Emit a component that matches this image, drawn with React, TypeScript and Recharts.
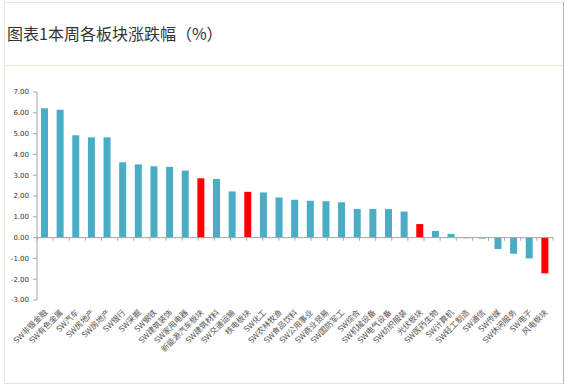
import React from 'react';
import { BarChart, Bar, XAxis, YAxis, Cell, ReferenceLine } from 'recharts';

const categories: string[] = [
  'SW非银金融', 'SW有色金属', 'SW汽车', 'SW房地产', 'SW房地产', 'SW银行', 'SW采掘', 'SW钢铁',
  'SW建筑装饰', 'SW家用电器', '新能源汽车板块', 'SW建筑材料', 'SW交通运输', '核电板块', 'SW化工',
  'SW农林牧渔', 'SW食品饮料', 'SW公用事业', 'SW商业贸易', 'SW国防军工', 'SW综合', 'SW机械设备',
  'SW电气设备', 'SW纺织服装', '光伏板块', 'SW医药生物', 'SW计算机', 'SW轻工制造', 'SW通信',
  'SW传媒', 'SW休闲服务', 'SW电子', '风电板块',
];

const changes: number[] = [
  6.22, 6.15, 4.92, 4.82, 4.82, 3.62, 3.52, 3.43, 3.40, 3.22, 2.85, 2.82, 2.22, 2.20, 2.17,
  1.93, 1.82, 1.77, 1.75, 1.70, 1.38, 1.38, 1.37, 1.25, 0.65, 0.32, 0.18, -0.03, -0.05,
  -0.55, -0.78, -1.00, -1.72,
];

const highlighted: string[] = ['新能源汽车板块', '核电板块', '光伏板块', '风电板块'];

const yTicks: number[] = [-3, -2, -1, 0, 1, 2, 3, 4, 5, 6, 7];

const data = categories.map((name, i) => ({ name, value: changes[i] }));
const boundaries = Array.from({ length: categories.length + 1 }, (_, i) => i);

const BLUE = '#4bacc6';
const RED = '#ff0000';
const AXIS = '#a6a6a6';

const XTick = (props: any) => {
  const { x, y, payload } = props;
  return (
    <g transform={`translate(${x + 1},${y + 11})`}>
      <text
        transform="rotate(-45)"
        textAnchor="end"
        dy="0.35em"
        fontSize={8}
        fill="#555"
        fontFamily="'Noto Sans CJK SC', 'DejaVu Sans', sans-serif"
      >
        {payload.value}
      </text>
    </g>
  );
};

const line = (style: React.CSSProperties): React.CSSProperties => ({
  position: 'absolute',
  background: '#e8e4da',
  ...style,
});

export default function App() {
  return (
    <div style={{ position: 'absolute', left: 0, top: 0, width: 567, height: 389, background: '#fff', overflow: 'hidden' }}>
      <div style={line({ left: 4, top: 2, width: 559, height: 1 })} />
      <div style={line({ left: 4, top: 2, width: 1, height: 381 })} />
      <div style={line({ left: 4, top: 65, width: 559, height: 1 })} />
      <div style={line({ left: 4, top: 383, width: 559, height: 1 })} />
      <div style={line({ left: 563, top: 2, width: 1, height: 382, background: '#b5b5b5' })} />
      <div
        style={{
          position: 'absolute',
          left: 7,
          top: 24,
          fontSize: 16,
          lineHeight: '18px',
          color: '#333',
          fontFamily: "'Noto Sans CJK SC', sans-serif",
          whiteSpace: 'nowrap',
        }}
      >
        图表1本周各板块涨跌幅（%）
      </div>
      <div style={{ position: 'absolute', left: 0, top: 0 }}>
        <BarChart
          width={567}
          height={389}
          data={data}
          margin={{ top: 92, right: 14, bottom: 88, left: 0 }}
          barCategoryGap={0}
        >
          <XAxis
            dataKey="name"
            interval={0}
            axisLine={false}
            tickLine={false}
            tickSize={0}
            tickMargin={0}
            height={1}
            tick={<XTick />}
          />
          <XAxis xAxisId="grid" type="number" domain={[0, categories.length]} hide />
          <YAxis
            domain={[-3, 7]}
            ticks={yTicks}
            interval={0}
            width={37}
            tickSize={4}
            tickMargin={4}
            tickFormatter={(v: number) => v.toFixed(2)}
            axisLine={{ stroke: AXIS }}
            tickLine={{ stroke: AXIS }}
            tick={{ fontSize: 7, fill: '#333', fontFamily: "'DejaVu Sans', sans-serif" }}
          />
          <Bar dataKey="value" barSize={7} isAnimationActive={false}>
            {data.map((d, i) => (
              <Cell key={i} fill={highlighted.includes(d.name) ? RED : BLUE} />
            ))}
          </Bar>
          <ReferenceLine y={0} stroke={AXIS} />
          {boundaries.map((b) => (
            <ReferenceLine
              key={b}
              xAxisId="grid"
              segment={[{ x: b, y: 0 }, { x: b, y: -0.15 }]}
              stroke={AXIS}
            />
          ))}
        </BarChart>
      </div>
    </div>
  );
}
